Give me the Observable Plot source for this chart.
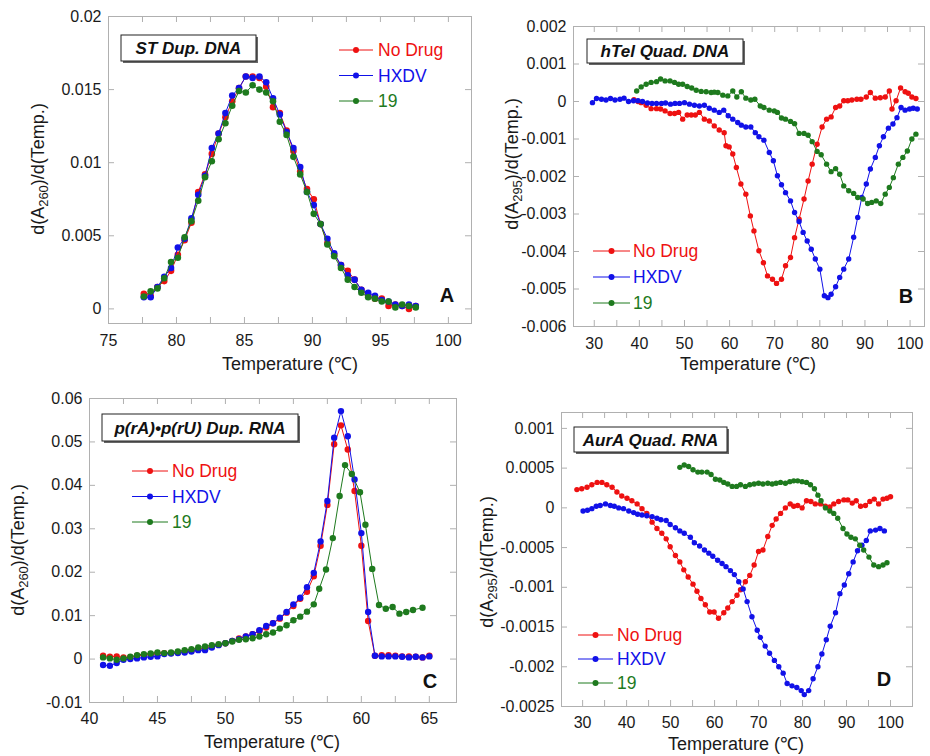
<!DOCTYPE html>
<html><head><meta charset="utf-8">
<script src="https://cdn.jsdelivr.net/npm/d3@7"></script>
<script src="https://cdn.jsdelivr.net/npm/@observablehq/plot@0.6"></script>
<style>
html,body{margin:0;padding:0;background:#fff;}
#chart{position:relative;width:930px;height:756px;font-family:"Liberation Sans",Arial,sans-serif;}
#chart svg{position:absolute;left:0;top:0;}
</style></head><body><div id="chart"></div>
<script>
// ---------- Panel A : ST Dup. DNA ----------
const aTemps = [77.6,78.1,78.6,79.1,79.6,80.1,80.6,81.1,81.6,82.1,82.6,83.1,83.6,84.1,84.6,85.1,85.6,86.1,86.6,87.1,87.6,88.1,88.6,89.1,89.6,90.1,90.6,91.1,91.6,92.1,92.6,93.1,93.6,94.1,94.6,95.1,95.6,96.1,96.6,97.1,97.6];
const aNoDrug = [0.00103,0.0009,0.0015,0.0019,0.0026,0.0037,0.0047,0.0059,0.0080,0.0092,0.0106,0.0120,0.0131,0.0142,0.0151,0.0159,0.0159,0.0158,0.0152,0.0138,0.0134,0.0122,0.0108,0.0094,0.0082,0.0075,0.0058,0.0045,0.0037,0.0030,0.0026,0.0020,0.0013,0.0009,0.0007,0.0007,0.0002,0.0003,0.0002,0.0000,0.0002];
const aHXDV = [0.0008,0.0008,0.0015,0.0022,0.0028,0.0042,0.0048,0.0062,0.0078,0.0091,0.0110,0.0120,0.0134,0.0146,0.0151,0.0159,0.0158,0.0159,0.0155,0.0144,0.0133,0.0121,0.0110,0.0097,0.0080,0.0071,0.0058,0.0048,0.0038,0.0030,0.0023,0.0020,0.0013,0.0011,0.0009,0.0006,0.0005,0.0003,0.0002,0.0003,0.0002];
const a19 = [0.00085,0.0012,0.0014,0.0021,0.0032,0.0035,0.0049,0.0060,0.0074,0.0090,0.0101,0.0116,0.0127,0.0139,0.0149,0.0148,0.0153,0.0150,0.0148,0.0142,0.0128,0.0119,0.0104,0.0092,0.0080,0.0065,0.0058,0.0044,0.0036,0.0028,0.0020,0.0015,0.0011,0.0008,0.0007,0.0005,0.0005,0.0001,0.0003,0.0002,0.0001];
const aXTicks = [75,80,85,90,95,100];
const aXMinor = [77.5,82.5,87.5,92.5,97.5];
const aYTicks = [0,0.005,0.01,0.015,0.02];

// ---------- Panel B : hTel Quad. DNA ----------
const bTempsNoDrug = [38.8,39.7,40.4,41.5,42.6,43.8,44.7,45.7,46.8,47.8,48.7,49.6,50.6,51.5,52.4,53.3,54.4,55.5,56.6,57.7,58.8,59.2,59.9,60.7,61.5,62.5,63.6,64.6,65.4,66.5,67.5,68.4,69.5,70.4,71.5,72.4,73.5,74.4,75.4,76.5,77.4,78.3,79.4,80.5,81.5,82.5,83.5,84.4,85.3,86.2,87.1,88.2,89.1,90.3,91.2,92.3,93.4,94.5,95.4,96.0,96.9,97.9,98.9,99.6,100.4,101.3];
const bNoDrug = [0.00005,0,-0.00003,-0.0001,-0.00019,-0.00019,-0.0002,-0.00025,-0.00032,-0.00032,-0.00029,-0.00047,-0.00036,-0.00036,-0.00036,-0.00029,-0.00047,-0.00052,-0.00065,-0.00076,-0.00083,-0.00118,-0.00121,-0.0014,-0.00176,-0.0022,-0.00247,-0.00305,-0.00345,-0.00398,-0.0043,-0.00465,-0.00474,-0.00485,-0.00474,-0.00438,-0.00416,-0.00363,-0.00314,-0.0026,-0.00212,-0.00167,-0.00114,-0.00068,-0.00047,-0.00041,-0.00016,-0.00012,0.00002,0.00002,0.00004,0.00006,0.00006,0.00012,0.00024,0.00009,0.0001,0.00012,0.00028,-0.0002,0.00002,0.00036,0.00026,0.00022,0.00012,0.00008];
const bTempsHXDV = [29.6,30.5,31.6,32.6,33.6,34.6,35.7,36.6,37.6,38.7,39.7,40.7,41.8,42.8,43.8,44.9,45.8,46.9,47.9,48.9,50.0,51.1,52.2,53.3,54.4,55.5,56.6,57.7,58.7,59.7,60.7,61.8,62.6,63.6,64.7,65.7,66.5,67.6,68.8,69.7,70.6,71.5,72.4,73.5,74.4,75.4,76.3,77.2,78.1,79.0,80.0,81.0,81.8,82.5,83.5,84.4,85.3,86.4,87.5,88.4,89.3,90.3,91.2,92.3,93.2,94.1,95.2,96.2,97.1,98.0,98.9,99.9,100.7,101.6];
const bHXDV = [-0.00003,0.00008,0.00006,0.00004,0.00008,0.00004,0.00006,0.00009,0,0.00002,0.00002,0,-0.00004,-0.00005,-0.00005,-0.00005,-0.00004,-0.00007,-0.00005,-0.00005,-0.00003,-0.00007,-0.0001,-0.00012,-0.0001,-0.00018,-0.00023,-0.00029,-0.00023,-0.00038,-0.00047,-0.00056,-0.00063,-0.00068,-0.00068,-0.00083,-0.00094,-0.00103,-0.00136,-0.00158,-0.00198,-0.00222,-0.00243,-0.00265,-0.00296,-0.0032,-0.00349,-0.00372,-0.00394,-0.0042,-0.00447,-0.00518,-0.00523,-0.00514,-0.00494,-0.00469,-0.00447,-0.0042,-0.00362,-0.00309,-0.00256,-0.0022,-0.0018,-0.00149,-0.00118,-0.00094,-0.00071,-0.0006,-0.00043,-0.00016,-0.00023,-0.0002,-0.00018,-0.0002];
const bTemps19 = [39.4,40.4,41.5,42.6,43.8,44.7,45.7,46.8,47.8,48.7,49.6,50.6,51.6,52.6,53.7,54.8,55.9,56.6,57.4,58.5,59.6,60.7,61.6,62.6,63.6,64.7,65.6,66.8,67.6,68.8,69.9,70.6,71.5,72.4,73.5,74.4,75.4,76.5,77.4,78.3,79.4,80.3,81.5,82.5,83.5,84.4,85.3,86.4,87.5,88.4,89.6,90.6,91.5,92.5,93.5,94.5,95.4,96.3,97.4,98.4,99.4,100.4,101.3];
const b19 = [0.00028,0.00039,0.00046,0.00051,0.00053,0.0006,0.00055,0.00055,0.00051,0.00046,0.00046,0.0004,0.00036,0.0003,0.00027,0.00026,0.00024,0.00025,0.00024,0.00017,0.00015,0.00028,0.00012,0.00026,0.00009,0.00004,0.00006,-0.00012,-0.00016,-0.00023,-0.00025,-0.00029,-0.00044,-0.00047,-0.00053,-0.00059,-0.00085,-0.00085,-0.0009,-0.00107,-0.00133,-0.00142,-0.00167,-0.00187,-0.00179,-0.00194,-0.00225,-0.00238,-0.00245,-0.00256,-0.0026,-0.00272,-0.00269,-0.00265,-0.00272,-0.00247,-0.00229,-0.00203,-0.00167,-0.00149,-0.00132,-0.001,-0.00087];
const bXTicks = [30,40,50,60,70,80,90,100];
const bXMinor = [35,45,55,65,75,85,95];
const bYTicks = [-0.006,-0.005,-0.004,-0.003,-0.002,-0.001,0,0.001,0.002];

// ---------- Panel C : p(rA)•p(rU) Dup. RNA ----------
const cTemps = [41,41.5,42,42.5,43,43.5,44,44.5,45,45.5,46,46.5,47,47.5,48,48.5,49,49.5,50,50.5,51,51.5,52,52.5,53,53.5,54,54.5,55,55.5,56,56.5,57,57.5,58,58.5,59,59.5,60,60.5,61,61.5,62,62.5,63,63.5,64,64.5,65];
const cNoDrug = [0.00076,0.00053,0.00061,0.00038,0.00038,0.00076,0.00092,0.00107,0.0013,0.00137,0.00137,0.00153,0.00176,0.00191,0.00229,0.00252,0.0029,0.00328,0.00366,0.0042,0.00473,0.00519,0.00573,0.00649,0.00725,0.00824,0.00931,0.01069,0.01221,0.01389,0.0155,0.01908,0.02611,0.0355,0.04947,0.05382,0.04824,0.0387,0.02611,0.00878,0.00076,0.00092,0.00092,0.00076,0.00061,0.00061,0.00053,0.00038,0.00076];
const cHXDV = [-0.00137,-0.00153,-0.00092,-0.00015,0,0.00015,0.00038,0.00053,0.00061,0.00115,0.0013,0.00137,0.00153,0.00176,0.00206,0.00206,0.00267,0.00321,0.00366,0.0042,0.00458,0.00519,0.00573,0.00664,0.00763,0.00824,0.00954,0.01084,0.0126,0.01412,0.01656,0.01985,0.0271,0.03641,0.05099,0.0571,0.0513,0.04137,0.02901,0.01084,0.00076,0.00061,0.00061,0.00061,0.00053,0.00038,0.00053,0.00038,0.00061];
const cTemps19 = [41,41.5,42,42.5,43,43.5,44,44.5,45,45.5,46,46.5,47,47.5,48,48.5,49,49.5,50,50.5,51,51.5,52,52.5,53,53.5,54,54.5,55,55.5,56,56.5,56.9,57.4,57.9,58.4,58.8,59.3,59.9,60.3,60.8,61.3,61.8,62.3,62.8,63.3,63.8,64.5];
const c19 = [0.00038,0.00015,-0.00015,0.00015,0.00053,0.00092,0.00115,0.0013,0.00153,0.00137,0.00153,0.00176,0.00206,0.00229,0.00267,0.0029,0.00321,0.00344,0.00366,0.00405,0.00443,0.00458,0.00481,0.00519,0.00573,0.00611,0.00702,0.00779,0.00893,0.00977,0.01092,0.0126,0.01618,0.02061,0.02786,0.03756,0.04466,0.0426,0.0384,0.03092,0.02076,0.01244,0.0116,0.01198,0.01046,0.01084,0.0113,0.01183];
const cXTicks = [40,45,50,55,60,65];
const cXMinor = [42.5,47.5,52.5,57.5,62.5];
const cYTicks = [-0.01,0,0.01,0.02,0.03,0.04,0.05,0.06];

// ---------- Panel D : AurA Quad. RNA ----------
const dTempsNoDrug = [28.7,29.8,31.0,32.1,33.3,34.4,35.5,36.7,37.8,38.9,40.1,41.2,42.4,43.5,44.6,45.8,46.9,48.0,49.0,49.9,51.1,52.1,53.0,54.0,55.1,56.0,56.9,57.9,58.9,59.9,60.9,62.1,63.0,64.0,65.1,65.9,67.0,68.0,69.0,70.0,71.0,72.1,73.1,74.0,75.0,76.1,77.2,78.0,78.9,79.9,80.9,81.9,82.9,84.1,85.2,86.2,87.1,88.2,89.4,90.3,91.3,92.2,93.2,94.3,95.3,96.3,97.3,98.3,99.2,100.0];
const dNoDrug = [0.00023,0.00024,0.00026,0.00029,0.00032,0.00032,0.00029,0.00026,0.0002,0.00015,0.00012,0.00009,0.00005,-0.00001,-0.00007,-0.00018,-0.00026,-0.00032,-0.00039,-0.00049,-0.0006,-0.00068,-0.00078,-0.00087,-0.00096,-0.00105,-0.00114,-0.00122,-0.00131,-0.00131,-0.00139,-0.00132,-0.00126,-0.00118,-0.0011,-0.00103,-0.00093,-0.00085,-0.00072,-0.00055,-0.00053,-0.00036,-0.00022,-0.00014,-0.00007,0,0.00005,0.00002,0.00003,0,0.00009,0.00008,0.00005,0.00005,0.00002,0.00001,0.00005,0.00008,0.0001,0.0001,0.00006,0.00009,0.00002,0.00003,0.00008,0.00011,0.00005,0.00011,0.00012,0.00014];
const dTempsHXDV = [30.1,31.1,32.1,33.1,34.0,35.2,36.3,37.2,38.2,39.3,40.5,41.6,42.5,43.5,44.6,45.8,46.9,47.8,49.0,49.9,51.1,52.1,53.1,54.5,55.4,56.6,57.7,58.7,59.6,60.7,61.7,62.6,63.6,64.5,65.5,66.5,67.4,68.5,69.7,70.4,71.5,72.5,73.6,74.6,75.6,76.5,77.6,78.7,79.7,80.4,81.4,82.4,83.5,84.4,85.4,86.3,87.5,88.5,89.5,90.5,91.5,92.5,93.5,94.5,95.4,96.6,97.6,98.6];
const dHXDV = [-0.00004,-0.00003,-0.00001,0.00002,0.00003,0.00005,0.00003,0.00002,0,-0.00001,-0.00004,-0.00006,-0.00008,-0.00009,-0.0001,-0.00011,-0.00013,-0.00015,-0.00016,-0.00021,-0.00025,-0.00029,-0.00032,-0.00037,-0.00044,-0.00048,-0.00053,-0.00057,-0.00061,-0.00066,-0.0007,-0.00074,-0.00079,-0.00084,-0.00093,-0.00102,-0.00118,-0.00137,-0.00154,-0.00163,-0.00174,-0.00183,-0.00192,-0.002,-0.00208,-0.00221,-0.00224,-0.00226,-0.0023,-0.00235,-0.0023,-0.00215,-0.002,-0.00184,-0.00166,-0.00149,-0.00132,-0.00108,-0.00097,-0.00083,-0.00068,-0.00054,-0.00047,-0.00041,-0.00029,-0.00028,-0.00026,-0.00029];
const dTemps19 = [52.1,53.1,54.1,55.1,56.2,57.1,58.3,59.2,60.2,61.2,62.1,63.0,64.0,65.0,65.9,67.0,68.0,69.0,70.0,71.0,72.1,73.1,74.0,75.0,76.1,77.1,78.0,78.9,79.9,80.9,81.8,82.7,83.5,84.2,85.2,86.2,87.1,88.0,89.2,90.1,91.0,92.0,93.0,93.9,95.1,96.2,97.3,98.3,99.2];
const d19 = [0.00051,0.00054,0.00052,0.00048,0.00045,0.00045,0.00045,0.00042,0.00036,0.00035,0.00032,0.0003,0.00027,0.00027,0.00029,0.00027,0.00029,0.0003,0.00031,0.0003,0.00031,0.0003,0.00031,0.00032,0.00031,0.00033,0.00034,0.00034,0.00033,0.00032,0.00029,0.00024,0.00016,0.00009,0,-0.00004,-0.00007,-0.00013,-0.00026,-0.00033,-0.00037,-0.00039,-0.00047,-0.00053,-0.00062,-0.00072,-0.00074,-0.00072,-0.00069];
const dXTicks = [30,40,50,60,70,80,90,100];
const dXMinor = [35,45,55,65,75,85,95];
const dYTicks = [-0.0025,-0.002,-0.0015,-0.001,-0.0005,0,0.0005,0.001];

const seriesNames = ["No Drug","HXDV","19"];
const seriesColors = ["#ee1111","#1111e8","#1e7a1e"];

const FONT = '"Liberation Sans", Arial, sans-serif';
const FRAME = "#b0b0b0";

function makePanel(p){
  const [x0,x1]=p.xDomain, [y0,y1]=p.yDomain;
  const ty=(y1-y0)*6/(p.bottom-p.top);
  const tx=(x1-x0)*6/(p.right-p.left);
  const allX=[...p.xTicks,...p.xMinor];
  const marks=[
    Plot.ruleX(allX,{x:d=>d,y1:()=>y0,y2:()=>y0+ty,stroke:FRAME}),
    Plot.ruleX(allX,{x:d=>d,y1:()=>y1,y2:()=>y1-ty,stroke:FRAME}),
    Plot.ruleY(p.yTicks,{y:d=>d,x1:()=>x0,x2:()=>x0+tx,stroke:FRAME}),
    Plot.ruleY(p.yTicks,{y:d=>d,x1:()=>x1,x2:()=>x1-tx,stroke:FRAME}),
    Plot.frame({stroke:FRAME}),
    Plot.axisX(p.xTicks,{tickSize:0,tickPadding:p.xPad,fontSize:16,tickFormat:d=>String(d),label:null}),
    Plot.axisY(p.yTicks,{tickSize:0,tickPadding:7,fontSize:16,tickFormat:d=>String(d),label:null})
  ];
  p.series.forEach((s,k)=>{
    const rows=s.T.map((T,i)=>({T,v:s.V[i]}));
    marks.push(Plot.line(rows,{x:"T",y:"v",stroke:seriesColors[k],strokeWidth:1}));
    marks.push(Plot.dot(rows,{x:"T",y:"v",fill:seriesColors[k],r:p.dotR}));
  });
  return Plot.plot({
    width:930,height:756,
    marginLeft:p.left,marginTop:p.top,marginRight:930-p.right,marginBottom:756-p.bottom,
    x:{domain:p.xDomain,label:null},y:{domain:p.yDomain,label:null},
    style:{background:"transparent",overflow:"visible",fontFamily:FONT,fontSize:"16px",color:"#1a1a1a"},
    marks
  });
}

const panels=[
  {left:108,top:16,right:471,bottom:323,xDomain:[75,101.7],yDomain:[-0.001,0.02],xTicks:aXTicks,xMinor:aXMinor,yTicks:aYTicks,xPad:11.5,dotR:3.3,
   series:[{T:aTemps,V:aNoDrug},{T:aTemps,V:aHXDV},{T:aTemps,V:a19}]},
  {left:573,top:26,right:924,bottom:326,xDomain:[25.4,103.2],yDomain:[-0.006,0.002],xTicks:bXTicks,xMinor:bXMinor,yTicks:bYTicks,xPad:11.5,dotR:2.7,
   series:[{T:bTempsNoDrug,V:bNoDrug},{T:bTempsHXDV,V:bHXDV},{T:bTemps19,V:b19}]},
  {left:89,top:398,right:456,bottom:702,xDomain:[40,67],yDomain:[-0.01,0.06],xTicks:cXTicks,xMinor:cXMinor,yTicks:cYTicks,xPad:10,dotR:3.2,
   series:[{T:cTemps,V:cNoDrug},{T:cTemps,V:cHXDV},{T:cTemps19,V:c19}]},
  {left:561,top:412,right:912,bottom:706,xDomain:[25.2,105],yDomain:[-0.0025,0.0012],xTicks:dXTicks,xMinor:dXMinor,yTicks:dYTicks,xPad:10,dotR:2.7,
   series:[{T:dTempsNoDrug,V:dNoDrug},{T:dTempsHXDV,V:dHXDV},{T:dTemps19,V:d19}]}
];
const chart=document.getElementById("chart");
panels.forEach(p=>chart.appendChild(makePanel(p)));

// ---------- Overlay: titles, legends, labels ----------
const ov=d3.select(chart).append("svg").attr("width",930).attr("height",756)
  .style("font-family",FONT).style("overflow","visible");

// axis titles
[[290,370],[748,370],[272,748],[736,750]].forEach(([x,y])=>{
  ov.append("text").attr("x",x).attr("y",y).attr("text-anchor","middle").attr("font-size",18).attr("fill","#1a1a1a").text("Temperature (\u2103)");
});
[[44,169,"260"],[518,164,"295"],[24,550,"260"],[493,562,"295"]].forEach(([x,y,sub])=>{
  const t=ov.append("text").attr("transform",`translate(${x},${y}) rotate(-90)`).attr("text-anchor","middle").attr("font-size",18).attr("fill","#1a1a1a");
  t.append("tspan").text("d(A");
  t.append("tspan").attr("font-size",13).attr("dy",4).text(sub);
  t.append("tspan").attr("dy",-4).text(")/d(Temp.)");
});

// title boxes
[[121,35,135,26,"ST Dup. DNA"],[587,39,156,24,"hTel Quad. DNA"],[102,414,196,27,"p(rA)\u2022p(rU) Dup. RNA"],[574,427,153,25,"AurA Quad. RNA"]].forEach(([x,y,w,h,s])=>{
  ov.append("rect").attr("x",x+2).attr("y",y+2).attr("width",w).attr("height",h).attr("fill","#666");
  ov.append("rect").attr("x",x).attr("y",y).attr("width",w).attr("height",h).attr("fill","#fff").attr("stroke","#222").attr("stroke-width",1);
  ov.append("text").attr("x",x+w/2).attr("y",y+h/2+6).attr("text-anchor","middle").attr("font-size",17)
    .attr("font-weight","bold").attr("font-style","italic").attr("fill","#111").text(s);
});

// panel letters
[[447,302,"A"],[906,303,"B"],[430,688,"C"],[884,686,"D"]].forEach(([x,y,s])=>{
  ov.append("text").attr("x",x).attr("y",y).attr("text-anchor","middle").attr("font-size",20).attr("font-weight","bold").attr("fill","#111").text(s);
});

// legends: [lineStart, lineEnd, textX, y0, step]
[[339,373,378,50,25.5],[593,630,633,251,26],[132,168,172,471,25.5],[578,613,617,635,24]].forEach(([l0,l1,tx,y0,st])=>{
  seriesNames.forEach((name,k)=>{
    const y=y0+k*st;
    ov.append("line").attr("x1",l0).attr("x2",l1).attr("y1",y).attr("y2",y).attr("stroke",seriesColors[k]).attr("stroke-width",1);
    ov.append("circle").attr("cx",(l0+l1)/2).attr("cy",y).attr("r",3).attr("fill",seriesColors[k]);
    ov.append("text").attr("x",tx).attr("y",y+6.3).attr("font-size",17.5).attr("fill",seriesColors[k]).text(name);
  });
});
</script></body></html>
